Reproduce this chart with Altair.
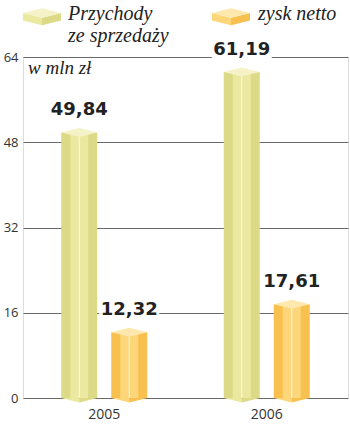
import altair as alt
import pandas as pd

years = ["2005", "2006"]
series = ["Przychody ze sprzedaży", "zysk netto"]
przychody = [49.84, 61.19]
zysk = [12.32, 17.61]
labels_p = ["49,84", "61,19"]
labels_z = ["12,32", "17,61"]
y_ticks = [0, 16, 32, 48, 64]

rows = []
for i, yr in enumerate(years):
    rows.append({"rok": yr, "seria": series[0], "wartosc": przychody[i], "etykieta": labels_p[i], "zero": 0})
    rows.append({"rok": yr, "seria": series[1], "wartosc": zysk[i], "etykieta": labels_z[i], "zero": 0})
df = pd.DataFrame(rows)

left_colors = ["#ebe89f", "#fdd67a"]
right_colors = ["#dcd987", "#f8c14f"]
top_colors = ["#f4f2c6", "#fee8ad"]

RHOMBUS = "M-1,0L0,0.25L1,0L0,-0.25Z"
BOT_L = "M-1,0L0,0L0,0.25Z"
BOT_R = "M0,0L1,0L0,0.25Z"
FACE_L = "M-1,0L0,0.25L0,0.65L-1,0.4Z"
FACE_R = "M0,0.25L1,0L1,0.4L0,0.65Z"
BOX = "M-1,-0.34L1,-0.34L1,0.34L-1,0.34Z"

x_enc = alt.X("rok:N", scale=alt.Scale(paddingInner=0, paddingOuter=0),
              axis=alt.Axis(title=None, labelFontSize=14, labelPadding=9, ticks=False,
                            domain=False, labelAngle=0, labelColor="#333",
                            labelFont="Open Sans", grid=False))
xoff = alt.XOffset("seria:N", scale=alt.Scale(domain=series, paddingInner=0.3, paddingOuter=0.775))
y_enc = alt.Y("wartosc:Q", scale=alt.Scale(domain=[0, 64], nice=False, zero=True),
              axis=alt.Axis(values=y_ticks, title=None, grid=True, gridColor="#6a6a6a",
                            gridWidth=1, domain=False, ticks=False, labelPadding=5,
                            labelFontSize=13, labelFont="Open Sans", labelColor="#333"))
y_zero = alt.Y("zero:Q")

def col(rng):
    return alt.Color("seria:N", scale=alt.Scale(domain=series, range=rng), legend=None)

base = alt.Chart(df)

side = base.mark_bar(width=36).encode(x=x_enc, xOffset=xoff, y=y_enc, color=col(right_colors))
front = base.mark_bar(width=18, xOffset=-9).encode(x=x_enc, xOffset=xoff, y=y_enc, color=col(left_colors))
edge = base.mark_bar(width=1, color="white", opacity=0.8).encode(x=x_enc, xOffset=xoff, y=y_enc)
top = base.mark_point(shape=RHOMBUS, size=1296, filled=True, opacity=1, strokeWidth=0).encode(
    x=x_enc, xOffset=xoff, y=y_enc, color=col(top_colors))
bot_l = base.mark_point(shape=BOT_L, size=1296, filled=True, opacity=1, strokeWidth=0).encode(
    x=x_enc, xOffset=xoff, y=y_zero, color=col(left_colors))
bot_r = base.mark_point(shape=BOT_R, size=1296, filled=True, opacity=1, strokeWidth=0).encode(
    x=x_enc, xOffset=xoff, y=y_zero, color=col(right_colors))
box = base.mark_point(shape=BOX, size=3600, filled=True, opacity=1, strokeWidth=0, color="white",
                      yOffset=-22).encode(x=x_enc, xOffset=xoff, y=y_enc)
text = base.mark_text(dy=-22, fontSize=18, fontWeight="bold", font="DejaVu Sans", color="#222",
                      baseline="middle").encode(x=x_enc, xOffset=xoff, y=y_enc, text="etykieta:N")

one = alt.Chart(pd.DataFrame({"a": [0]}))

def glyph(px, py, i):
    layers = []
    for path, c in [(FACE_L, left_colors[i]), (FACE_R, right_colors[i]), (RHOMBUS, top_colors[i])]:
        layers.append(one.mark_point(shape=path, size=1444, filled=True, opacity=1, strokeWidth=0,
                                     color=c).encode(x=alt.value(px), y=alt.value(py)))
    return layers

leg1_text = one.mark_text(align="left", baseline="alphabetic", font="Liberation Serif",
                          fontStyle="italic", fontSize=20, lineHeight=22, color="#222").encode(
    x=alt.value(45), y=alt.value(-37), text=alt.value(["Przychody", "ze sprzedaży"]))
leg2_text = one.mark_text(align="left", baseline="alphabetic", font="Liberation Serif",
                          fontStyle="italic", fontSize=20, color="#222").encode(
    x=alt.value(235), y=alt.value(-37), text=alt.value("zysk netto"))
unit_text = one.mark_text(align="left", baseline="alphabetic", font="Liberation Serif",
                          fontStyle="italic", fontSize=19, color="#222").encode(
    x=alt.value(5), y=alt.value(17), text=alt.value("w mln zł"))

chart = alt.layer(
    side, front, edge, bot_l, bot_r, top, box, text,
    *glyph(19, -44, 0), *glyph(208, -44, 1),
    leg1_text, leg2_text, unit_text,
).resolve_scale(color="independent").properties(
    width=325, height=341, autosize="none",
    padding={"left": 23, "top": 57, "right": 2, "bottom": 28},
).configure_view(stroke="#7a7a7a", strokeWidth=1).configure(background="white")

chart.save("out.html", embed_options={"renderer": "svg", "actions": False})
